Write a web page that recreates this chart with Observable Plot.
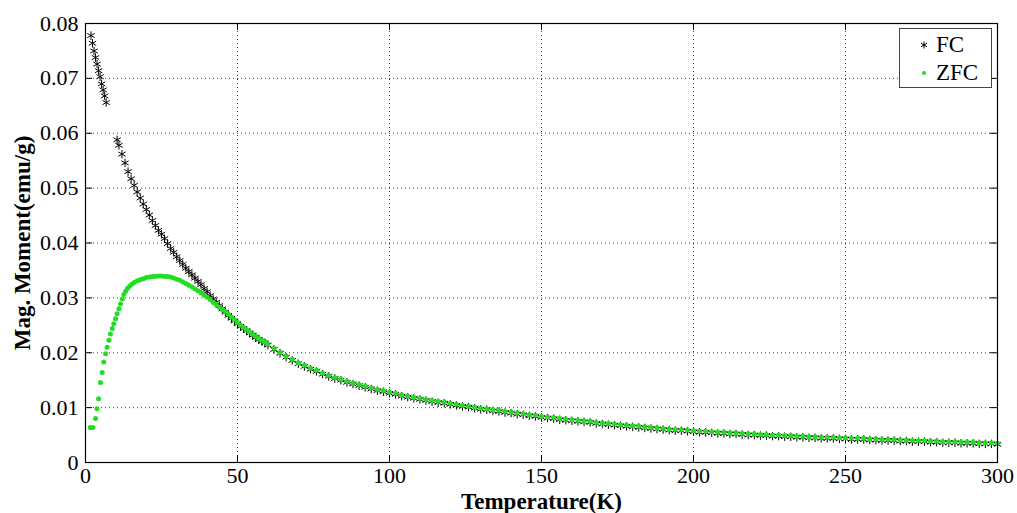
<!DOCTYPE html>
<html>
<head>
<meta charset="utf-8">
<script src="https://cdn.jsdelivr.net/npm/d3@7"></script>
<script src="https://cdn.jsdelivr.net/npm/@observablehq/plot@0.6"></script>
<style>
  html, body { margin: 0; padding: 0; background: #fff; }
  #wrap { position: relative; width: 1017px; height: 513px; }
  #wrap svg [aria-label="x-axis label"], #wrap svg [aria-label="y-axis label"] { font-weight: bold; font-size: 23px; }
  #legend {
    position: absolute; left: 899px; top: 28px; width: 91px; height: 58px;
    border: 1px solid #444; background: #fff;
    font-family: "Liberation Serif", "Times New Roman", serif; font-size: 23px; color: #000;
  }
  #legend .row { position: absolute; left: 0; height: 26px; display: flex; align-items: center; }
  #legend .row svg { margin-left: 19px; margin-right: 7px; }
</style>
</head>
<body>
<div id="wrap">
  <div id="legend">
    <div class="row" style="top:3px">
      <svg width="10" height="10" viewBox="-5 -5 10 10"><path d="M0,-3.5V3.5M-3,-1.75L3,1.75M-3,1.75L3,-1.75" stroke="#000" stroke-width="1"/></svg>FC
    </div>
    <div class="row" style="top:31px">
      <svg width="10" height="10" viewBox="-5 -5 10 10"><circle r="2" fill="#22dd22"/></svg>ZFC
    </div>
  </div>
</div>
<script>
// Tick values
const xTicks = [0, 50, 100, 150, 200, 250, 300];
const yTicks = [0, 0.01, 0.02, 0.03, 0.04, 0.05, 0.06, 0.07, 0.08];

// Shared temperatures for the high-T part (K)
const tempHigh = [62,64,66,68,70,72,74,76,78,80,82,84,86,88,90,92,94,96,98,100,
  102,104,106,108,110,112,114,116,118,120,122,124,126,128,130,132,134,136,138,140,
  142,144,146,148,150,152,154,156,158,160,162,164,166,168,170,172,174,176,178,180,
  182,184,186,188,190,192,194,196,198,200,202,204,206,208,210,212,214,216,218,220,
  222,224,226,228,230,232,234,236,238,240,242,244,246,248,250,252,254,256,258,260,
  262,264,266,268,270,272,274,276,278,280,282,284,286,288,290,292,294,296,298,300];

// FC (field cooled)
const fcTempLow = [1.8,2.3,2.8,3.3,3.8,4.3,4.8,5.3,5.8,6.3,6.8,
  10.4,11,12,13,14,15,16,17,18,19,20,21,22,23,24,25,26,27,28,29,30,
  31,32,33,34,35,36,37,38,39,40,41,42,43,44,45,46,47,48,49,50,
  51,52,53,54,55,56,57,58,59,60];
const fcMomentLow = [0.0778,0.0764,0.0750,0.0738,0.0726,0.0714,0.0703,0.0690,0.0679,0.0668,0.0656,
  0.0588,0.0578,0.0562,0.0546,0.0530,0.0517,0.0505,0.0493,0.0482,0.0471,0.0461,0.0451,0.0441,0.0432,0.0423,0.0416,0.0408,0.0399,0.0390,0.0383,0.0375,
  0.0368,0.0361,0.0354,0.0348,0.0342,0.0336,0.0330,0.0324,0.0317,0.0311,0.0304,0.0298,0.0292,0.0286,0.0280,0.0274,0.0268,0.0263,0.0258,0.0253,
  0.0248,0.0244,0.0240,0.0236,0.0232,0.0228,0.0224,0.0221,0.0218,0.0214];
const fcMomentHigh = [0.0206,0.0199,0.0192,0.0186,0.0180,0.0175,0.0170,0.0166,0.0161,0.0157,0.0153,0.0150,0.0146,0.0143,0.0140,0.0137,0.0134,0.0131,0.0129,0.0126,
  0.0124,0.0121,0.0119,0.0117,0.0115,0.0113,0.0111,0.0109,0.0108,0.0106,0.0104,0.0102,0.0101,0.0099,0.0097,0.0096,0.0094,0.0093,0.0091,0.0090,
  0.0088,0.0087,0.0085,0.0084,0.0082,0.0081,0.0080,0.0078,0.0077,0.0076,0.0075,0.0074,0.0073,0.0071,0.0070,0.0069,0.0068,0.0067,0.0066,0.0065,
  0.0064,0.0063,0.0062,0.0061,0.0060,0.0059,0.0058,0.0058,0.0057,0.0056,0.0055,0.0055,0.0054,0.0053,0.0053,0.0052,0.0052,0.0051,0.0050,0.0050,
  0.0049,0.0049,0.0048,0.0048,0.0047,0.0047,0.0046,0.0046,0.0045,0.0045,0.0044,0.0044,0.0044,0.0043,0.0043,0.0042,0.0042,0.0042,0.0041,0.0041,
  0.0040,0.0040,0.0040,0.0039,0.0039,0.0038,0.0038,0.0038,0.0037,0.0037,0.0036,0.0036,0.0036,0.0035,0.0035,0.0035,0.0034,0.0034,0.0034,0.0033];

// ZFC (zero field cooled)
const zfcTempLow = [1.6,2.4,3.3,3.8,4.3,4.9,5.5,6.0,6.6,7.1,7.7,8.2,8.8,9.3,9.9,10.4,11.0,11.5,12.1,12.6,
  13.2,13.8,14.5,15.2,16,17,18,19,20,21,22,23,24,25,26,27,28,29,30,
  31,32,33,34,35,36,37,38,39,40,41,42,43,44,45,46,47,48,49,50,
  51,52,53,54,55,56,57,58,59,60];
const zfcMomentLow = [0.0064,0.0064,0.0080,0.0098,0.0116,0.0146,0.0164,0.0183,0.0198,0.0210,0.0223,0.0234,0.0244,0.0253,0.0262,0.0271,0.0280,0.0289,0.0298,0.0306,
  0.0312,0.0317,0.0321,0.0325,0.0328,0.0331,0.0333,0.0335,0.0337,0.0338,0.0339,0.0339,0.0340,0.0340,0.0339,0.0339,0.0338,0.0336,0.0334,
  0.0332,0.0329,0.0326,0.0323,0.0320,0.0316,0.0313,0.0309,0.0305,0.0301,0.0297,0.0292,0.0288,0.0283,0.0279,0.0275,0.0270,0.0265,0.0260,0.0255,
  0.0250,0.0246,0.0242,0.0238,0.0234,0.0230,0.0226,0.0223,0.0220,0.0216];
const zfcMomentHigh = [0.0208,0.0201,0.0194,0.0188,0.0182,0.0177,0.0172,0.0168,0.0163,0.0159,0.0155,0.0152,0.0148,0.0145,0.0142,0.0139,0.0136,0.0133,0.0131,0.0128,
  0.0126,0.0123,0.0121,0.0119,0.0117,0.0115,0.0113,0.0111,0.0110,0.0108,0.0106,0.0104,0.0103,0.0101,0.0099,0.0098,0.0096,0.0095,0.0093,0.0092,
  0.0090,0.0089,0.0087,0.0086,0.0084,0.0083,0.0082,0.0080,0.0079,0.0078,0.0077,0.0076,0.0075,0.0073,0.0072,0.0071,0.0070,0.0069,0.0068,0.0067,
  0.0066,0.0065,0.0064,0.0063,0.0062,0.0061,0.0060,0.0060,0.0059,0.0058,0.0057,0.0057,0.0056,0.0055,0.0055,0.0054,0.0054,0.0053,0.0052,0.0052,
  0.0051,0.0051,0.0050,0.0050,0.0049,0.0049,0.0048,0.0048,0.0047,0.0047,0.0046,0.0046,0.0046,0.0045,0.0045,0.0044,0.0044,0.0044,0.0043,0.0043,
  0.0042,0.0042,0.0042,0.0041,0.0041,0.0040,0.0040,0.0040,0.0039,0.0039,0.0038,0.0038,0.0038,0.0037,0.0037,0.0037,0.0036,0.0036,0.0036,0.0035];

const fc = fcTempLow.concat(tempHigh).map((t, i) => ({t, m: fcMomentLow.concat(fcMomentHigh)[i]}));
const zfc = zfcTempLow.concat(tempHigh).map((t, i) => ({t, m: zfcMomentLow.concat(zfcMomentHigh)[i]}));

const W = 1017, H = 513;
const mL = 85, mR = 20, mT = 23, mB = 51;
const innerW = W - mL - mR, innerH = H - mT - mB;
const tickLen = 7;
const gridStyle = {stroke: "#000", strokeOpacity: 0.75, strokeWidth: 1, strokeDasharray: "1,3"};

const chart = Plot.plot({
  width: W, height: H,
  marginLeft: mL, marginRight: mR, marginTop: mT, marginBottom: mB,
  style: {fontFamily: "'Liberation Serif', 'Times New Roman', serif", fontSize: "22px", color: "#000", background: "#fff", overflow: "visible"},
  x: {domain: [0, 300]},
  y: {domain: [0, 0.08]},
  marks: [
    Plot.gridX(xTicks.slice(1, -1), gridStyle),
    Plot.gridY(yTicks.slice(1, -1), gridStyle),
    Plot.tickX(xTicks, {x: d => d, insetTop: innerH - tickLen, stroke: "#000"}),
    Plot.tickX(xTicks, {x: d => d, insetBottom: innerH - tickLen, stroke: "#000"}),
    Plot.tickY(yTicks, {y: d => d, insetRight: innerW - tickLen, stroke: "#000"}),
    Plot.tickY(yTicks, {y: d => d, insetLeft: innerW - tickLen, stroke: "#000"}),
    Plot.axisX(xTicks, {tickSize: 0, tickPadding: 5, fontSize: 22, label: "Temperature(K)", labelAnchor: "center", labelArrow: "none", labelOffset: 46}),
    Plot.axisY(yTicks, {tickSize: 0, tickPadding: 7, fontSize: 22, tickFormat: d => d === 0 ? "0" : d.toFixed(2), label: "Mag. Moment(emu/g)", labelAnchor: "center", labelArrow: "none", labelOffset: 72}),
    Plot.dot(fc, {x: "t", y: "m", symbol: "asterisk", r: 4, stroke: "#000", strokeWidth: 1}),
    Plot.dot(zfc, {x: "t", y: "m", r: 2.5, fill: "#22dd22", stroke: "none"}),
    Plot.frame({stroke: "#000", strokeWidth: 1.2})
  ]
});
document.getElementById("wrap").prepend(chart);
</script>
</body>
</html>
